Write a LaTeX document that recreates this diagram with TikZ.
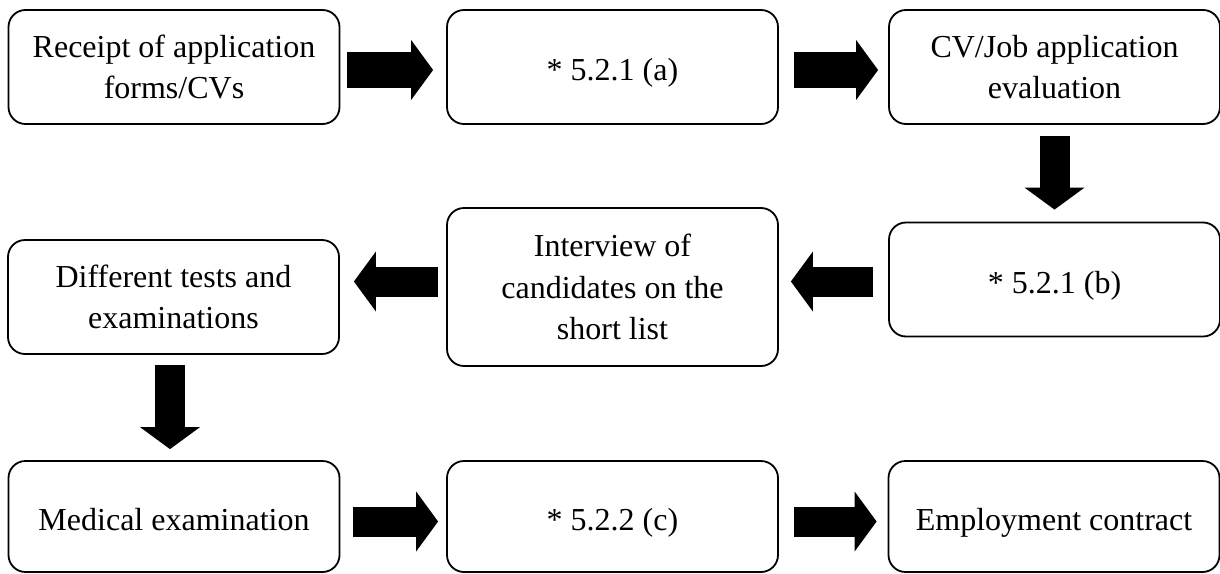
\documentclass[tikz,border=0pt]{standalone}
\usepackage{fontspec}
\setmainfont{Liberation Serif}
\usetikzlibrary{arrows.meta}

\tikzset{
  box/.style={draw, line width=0.9pt, rounded corners=8.5pt,
    minimum width=165.5pt, minimum height=57pt, align=center,
    font=\fontsize{16}{20.75}\selectfont},
  oneline/.style={box, text height=13.5pt, text depth=0pt},
  fatarrow/.style={line width=15pt,
    -{Triangle[length=11pt, width=30pt, line width=0pt]}},
}

\begin{document}
\begin{tikzpicture}[x=0.5pt, y=-0.5pt]
    \useasboundingbox (0, 0) rectangle (1220, 573);

    % first row
    \node[box] (receipt) at (174, 67) {Receipt of application\\forms/CVs};
    \node[oneline] (stepa) at (612.5, 67) {* 5.2.1 (a)};
    \node[box] (evaluation) at (1054.5, 67) {CV/Job application\\evaluation};

    % second row
    \node[oneline] (stepb) at (1054.5, 279.5) {* 5.2.1 (b)};
    \node[box, minimum height=79pt] (interview) at (612.5, 287)
	{Interview of\\candidates on the\\short list};
    \node[box] (tests) at (173.5, 297) {Different tests and\\examinations};

    % third row
    \node[oneline, minimum height=55.5pt] (medical) at (174, 516.5) {Medical examination};
    \node[oneline, minimum height=55.5pt] (stepc) at (612.5, 516.5) {* 5.2.2 (c)};
    \node[oneline, minimum height=55.5pt] (contract) at (1054, 516.5) {Employment contract};

    \coordinate (rowone) at (0, 70);
    \coordinate (rowtwo) at (0, 281.5);
    \coordinate (rowthree) at (0, 521.5);
    \coordinate (colone) at (170, 0);

    \draw[fatarrow, line width=18pt, shorten <=3.5pt, shorten >=6.5pt]
	(receipt.east |- rowone) -- (stepa.west |- rowone);
    \draw[fatarrow, line width=18pt, shorten <=7.5pt, shorten >=5pt]
	(stepa.east |- rowone) -- (evaluation.west |- rowone);
    \draw[fatarrow, shorten <=5.5pt, shorten >=6pt]
	(evaluation.south) -- (stepb.north);

    \draw[fatarrow, shorten <=7.5pt, shorten >=6pt]
	(stepb.west |- rowtwo) -- (interview.east |- rowtwo);
    \draw[fatarrow, shorten <=4pt, shorten >=7pt]
	(interview.west |- rowtwo) -- (tests.east |- rowtwo);
    \draw[fatarrow, shorten <=5pt, shorten >=5.5pt]
	(tests.south -| colone) -- (medical.north -| colone);

    \draw[fatarrow, shorten <=6.5pt, shorten >=4pt]
	(medical.east |- rowthree) -- (stepc.west |- rowthree);
    \draw[fatarrow, shorten <=7.5pt, shorten >=5.5pt]
	(stepc.east |- rowthree) -- (contract.west |- rowthree);
\end{tikzpicture}
\end{document}
